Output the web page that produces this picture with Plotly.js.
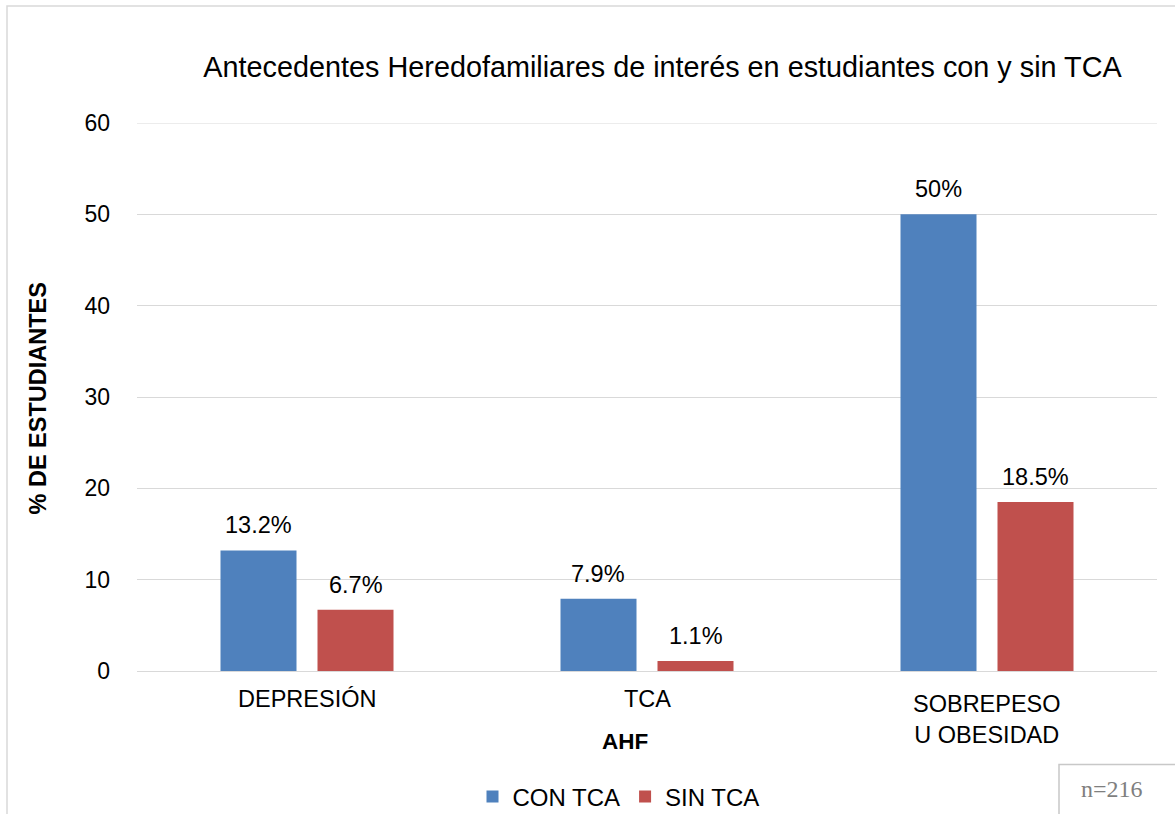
<!DOCTYPE html>
<html>
<head>
<meta charset="utf-8">
<script src="https://cdn.plot.ly/plotly-3.0.1.min.js"></script>
<style>html,body{margin:0;padding:0;background:#fff;}#chart{width:1175px;height:814px;}</style>
</head>
<body>
<div id="chart"></div>
<script>
var categories = ["DEPRESIÓN", "TCA", "SOBREPESO<br>U OBESIDAD"];
var seriesNames = ["CON TCA", "SIN TCA"];
var conTCA = [13.2, 7.9, 50];
var sinTCA = [6.7, 1.1, 18.5];
var conLabels = ["13.2%", "7.9%", "50%"];
var sinLabels = ["6.7%", "1.1%", "18.5%"];
var yTicks = [0, 10, 20, 30, 40, 50, 60];
var chartTitle = "Antecedentes Heredofamiliares de interés en estudiantes con y sin TCA";
var yTitle = "% DE ESTUDIANTES";
var xTitle = "AHF";
var noteText = "n=216";

var FONT = '"Liberation Sans", Arial, sans-serif';
var W = 1175, H = 814;
var mL = 137, mR = 18, mT = 123, mB = 143;
var plotW = W - mL - mR, plotH = H - mT - mB;
var bargap = 0.4294, bargroupgap = 0.2165;
var yMax = yTicks[yTicks.length - 1];
function px2x(p){ return (p - mL) / plotW; }
function px2y(p){ return (H - mB - p) / plotH; }

var catW = plotW / categories.length;
var slot = catW * (1 - bargap) / 2;

var traces = [
  {type: 'bar', name: seriesNames[0], x: categories, y: conTCA, marker: {color: '#4F81BD'}, hoverinfo: 'x+y'},
  {type: 'bar', name: seriesNames[1], x: categories, y: sinTCA, marker: {color: '#C0504D'}, hoverinfo: 'x+y'}
];

var annotations = [];
categories.forEach(function(c, i){
  annotations.push({x: c, y: conTCA[i], xref: 'x', yref: 'y', text: conLabels[i], showarrow: false,
    xshift: -slot/2, yshift: 25, yanchor: 'middle', font: {family: FONT, size: 23.5, color: '#000'}});
  annotations.push({x: c, y: sinTCA[i], xref: 'x', yref: 'y', text: sinLabels[i], showarrow: false,
    xshift: slot/2, yshift: 25, yanchor: 'middle', font: {family: FONT, size: 23.5, color: '#000'}});
  var multi = c.indexOf('<br>') >= 0;
  annotations.push({x: c, y: multi ? px2y(719.5) : px2y(699), xref: 'x', yref: 'paper', text: c, showarrow: false,
    yanchor: 'middle', align: 'center', font: {family: FONT, size: 23.5, color: '#000'}});
});
annotations.push({x: px2x(37), y: px2y(398.5), xref: 'paper', yref: 'paper', text: '<b>' + yTitle + '</b>',
  textangle: -90, showarrow: false, xanchor: 'center', yanchor: 'middle', font: {family: FONT, size: 23.5, color: '#000'}});
annotations.push({x: px2x(624.5), y: px2y(741), xref: 'paper', yref: 'paper', text: '<b>' + xTitle + '</b>',
  showarrow: false, xanchor: 'center', yanchor: 'middle', font: {family: FONT, size: 22.5, color: '#000'}});
annotations.push({x: px2x(1112), y: px2y(789), xref: 'paper', yref: 'paper', text: noteText,
  showarrow: false, xanchor: 'center', yanchor: 'middle', font: {family: '"Liberation Serif", "DejaVu Serif", serif', size: 24, color: '#7f7f7f'}});

var layout = {
  width: W, height: H,
  margin: {l: mL, r: mR, t: mT, b: mB, pad: 0, autoexpand: false},
  paper_bgcolor: '#fff', plot_bgcolor: '#fff',
  font: {family: FONT, size: 22, color: '#000'},
  title: {text: chartTitle, x: 662.5 / W, xref: 'container', xanchor: 'center', y: 1 - 67 / H, yref: 'container', yanchor: 'middle',
    font: {family: FONT, size: 28.8, color: '#000'}},
  barmode: 'group', bargap: bargap, bargroupgap: bargroupgap,
  xaxis: {type: 'category', showticklabels: false, showgrid: false, zeroline: false, showline: true, linecolor: '#d9d9d9', linewidth: 1, ticks: '', fixedrange: true},
  yaxis: {range: [0, yMax], tickvals: yTicks, ticktext: yTicks.map(String), showgrid: true, gridcolor: '#d9d9d9', gridwidth: 1,
    zeroline: false, showline: false, ticks: '', ticklabelstandoff: 26, tickfont: {family: FONT, size: 23, color: '#000'}, fixedrange: true},
  showlegend: true,
  legend: {orientation: 'h', x: px2x(618.5), xanchor: 'center', y: px2y(797), yanchor: 'middle', font: {family: FONT, size: 24, color: '#000'},
    bgcolor: 'rgba(0,0,0,0)', traceorder: 'normal', itemclick: false, itemdoubleclick: false},
  shapes: [
    {type: 'line', xref: 'paper', yref: 'y', x0: 0, x1: 1, y0: yMax, y1: yMax, line: {color: '#d9d9d9', width: 1}, layer: 'below'},
    {type: 'rect', xref: 'paper', yref: 'paper', x0: px2x(7), x1: px2x(W + 10), y0: px2y(6), y1: px2y(H + 10), line: {color: '#d9d9d9', width: 1.5}, fillcolor: 'rgba(0,0,0,0)', layer: 'below'},
    {type: 'rect', xref: 'paper', yref: 'paper', x0: px2x(1059), x1: px2x(W + 10), y0: px2y(764.5), y1: px2y(H + 10), line: {color: '#c8c8c8', width: 1.5}, fillcolor: 'rgba(0,0,0,0)'}
  ],
  annotations: annotations
};

Plotly.newPlot('chart', traces, layout, {displayModeBar: false, staticPlot: false});
</script>
</body>
</html>
